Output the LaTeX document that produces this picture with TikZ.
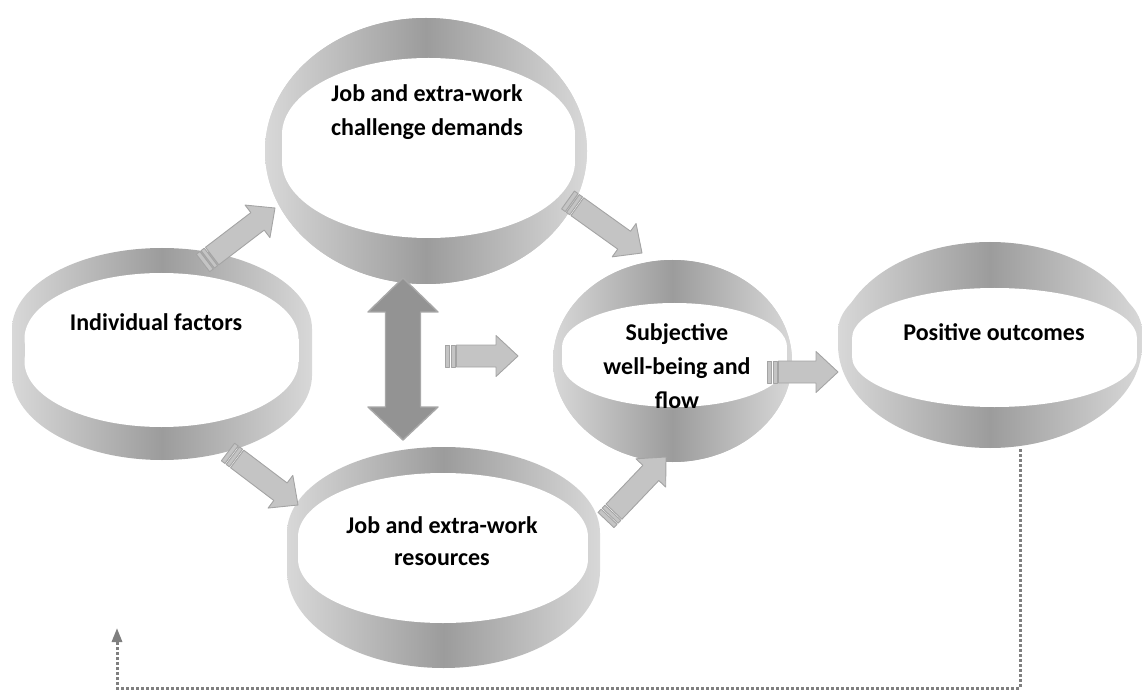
\documentclass[tikz,border=0pt]{standalone}
\usepackage{fontspec}
\setmainfont{Carlito}
\usetikzlibrary{calc,arrows.meta}

\definecolor{ringlight}{HTML}{D8D8D8}
\definecolor{ringdark}{HTML}{9C9C9C}
\definecolor{arrowfill}{HTML}{C4C4C4}
\definecolor{arrowedge}{HTML}{A4A4A4}
\definecolor{dblfill}{HTML}{939393}
\definecolor{dbledge}{HTML}{A8A8A8}
\definecolor{loopgray}{HTML}{7F7F7F}

\tikzset{
  band/.style={left color=ringlight, right color=ringlight, middle color=ringdark},
  lbl/.style={align=center, text=black, inner sep=0pt,
              font=\bfseries\fontsize{24}{34}\selectfont},
  blk/.style={fill=arrowfill, draw=arrowedge, line width=0.9pt, line join=round},
  dbl/.style={fill=dblfill, draw=dbledge, line width=1.4pt, line join=round},
  feedback/.style={draw=loopgray, line width=3pt, dash pattern=on 3pt off 2pt,
                   -{Triangle[width=10pt,length=14pt]}},
}

% rounded "barrel" outline: upper half of ellipse (#1,#3) with y radius #4,
% lower half of ellipse (#1,#5) with y radius #6, common x radius #2,
% joined by straight sides; #7 = fill style
\newcommand{\barrel}[7]{%
  \path[#7] (#1,#3) ellipse [x radius=#2, y radius=#4];
  \path[#7] (#1,#5) ellipse [x radius=#2, y radius=#6];
  \path[#7] ($(#1,#3)+(-#2,0)$) rectangle ($(#1,#5)+(#2,0)$);
}

% open ring seen from above: shaded outer barrel, white opening on top
\newcommand{\ringshape}[2]{%
  \barrel#1{shade,band}%
  \barrel#2{fill=white}%
}

% striped block arrow from tail #1 to tip #2
\newcommand{\blkarrow}[2]{%
  \coordinate (hb) at ($(#2)!22pt!(#1)$);
  \coordinate (sa) at ($(#1)!4.5pt!(#2)$);
  \coordinate (sb) at ($(#1)!6pt!(#2)$);
  \coordinate (sc) at ($(#1)!10pt!(#2)$);
  \coordinate (sd) at ($(#1)!11.5pt!(#2)$);
  \filldraw[blk] ($(sd)!11pt!90:(#2)$) -- ($(hb)!11pt!90:(#2)$)
    -- ($(hb)!20.5pt!90:(#2)$) -- (#2) -- ($(hb)!20.5pt!-90:(#2)$)
    -- ($(hb)!11pt!-90:(#2)$) -- ($(sd)!11pt!-90:(#2)$) -- cycle;
  \filldraw[blk] ($(#1)!11pt!90:(#2)$) -- ($(sa)!11pt!90:(#2)$)
    -- ($(sa)!11pt!-90:(#2)$) -- ($(#1)!11pt!-90:(#2)$) -- cycle;
  \filldraw[blk] ($(sb)!11pt!90:(#2)$) -- ($(sc)!11pt!90:(#2)$)
    -- ($(sc)!11pt!-90:(#2)$) -- ($(sb)!11pt!-90:(#2)$) -- cycle;
}

\begin{document}
\begin{tikzpicture}[x=1pt, y=-1pt]
\useasboundingbox (0,0) rectangle (1142,692);

% rings: {cx}{rx}{upper centre}{upper ry}{lower centre}{lower ry}
\ringshape{{162}{150}{329}{81}{375}{85}}{{161.5}{137}{338.5}{65.5}{361.5}{65.5}}       % individual factors
\ringshape{{426}{161}{151}{133}{151}{133}}{{428.5}{146.5}{134.5}{76.5}{161.5}{76.5}}   % challenge demands
\ringshape{{672.5}{119.5}{361}{101}{361}{101}}{{674.5}{112.5}{347}{44}{363}{44}}       % well-being
\ringshape{{990}{152}{331}{69}{345}{103}}{{994.5}{142.5}{338.5}{50.5}{356.5}{50.5}}    % outcomes
\ringshape{{443.5}{156.5}{533}{86}{571}{97}}{{443}{145}{537}{64}{559}{64}}             % resources

% labels
\node[lbl] (t1) at (156,322) {Individual factors};
\node[lbl] (t2) at (427,112) {Job and extra-work\\challenge demands};
\node[lbl] (t3) at (677,366) {Subjective\\well-being and\\flow};
\node[lbl] (t4) at (994,332) {Positive outcomes};
\node[lbl, font=\bfseries\fontsize{24}{32}\selectfont] (t5) at (442,541)
  {Job and extra-work\\resources};

% block arrows
\coordinate (a1t) at (203,263);  \coordinate (a1h) at (275,208);
\coordinate (a2t) at (568,200);  \coordinate (a2h) at (642,253);
\coordinate (a3t) at (445,356);  \coordinate (a3h) at (518,356);
\coordinate (a4t) at (767,372);  \coordinate (a4h) at (838,372);
\coordinate (a5t) at (228,452);  \coordinate (a5h) at (298,505);
\coordinate (a6t) at (606,520);  \coordinate (a6h) at (666,457);
\blkarrow{a1t}{a1h}
\blkarrow{a2t}{a2h}
\blkarrow{a3t}{a3h}
\blkarrow{a4t}{a4h}
\blkarrow{a5t}{a5h}
\blkarrow{a6t}{a6h}

% two-headed arrow between demands and resources
\coordinate (dtop) at (403,278);
\coordinate (dbot) at (403,440);
\filldraw[dbl] (dtop) -- (438,312) -- (420.5,312) -- (420.5,407) -- (438,407)
  -- (dbot) -- (368,407) -- (385.5,407) -- (385.5,312) -- (368,312) -- cycle;

% feedback loop
\coordinate (fb0) at (1020,449);
\coordinate (fb1) at (1020,688);
\coordinate (fb2) at (117,688);
\coordinate (fb3) at (117,628);
\draw[feedback] (fb0) -- (fb1) -- (fb2) -- (fb3);
\end{tikzpicture}
\end{document}
